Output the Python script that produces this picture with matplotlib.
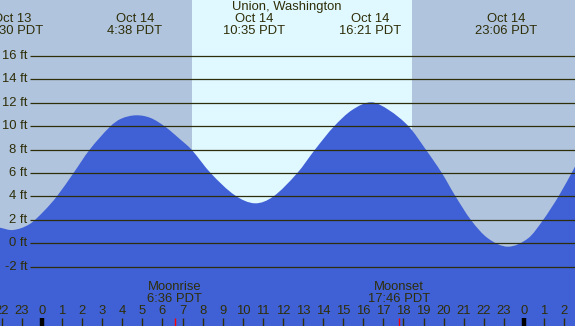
import matplotlib
matplotlib.use("Agg")
import matplotlib.pyplot as plt
from matplotlib.path import Path
from matplotlib.patches import PathPatch
from matplotlib.transforms import blended_transform_factory

# ---- data (hours relative to midnight Oct 14, heights in ft) ----
tide_hours = [-2.09, -1.45, -0.63, 0.10, 0.74, 1.56, 2.38, 3.39, 3.93, 4.67, 5.40,
              6.13, 6.86, 7.44, 8.41, 9.60, 10.60, 11.51, 12.70, 13.62, 14.53,
              15.44, 16.39, 17.27, 18.27, 19.09, 19.92, 20.55, 21.37, 22.20,
              23.20, 24.21, 24.94, 25.76, 26.54]
tide_heights = [1.33, 1.13, 1.62, 2.75, 4.00, 5.97, 8.00, 9.95, 10.62, 10.92, 10.70,
                9.95, 8.90, 8.00, 5.97, 4.10, 3.41, 3.98, 5.97, 8.05, 9.95,
                11.37, 12.03, 11.37, 9.95, 8.05, 5.97, 4.12, 1.96, 0.43,
                -0.29, 0.43, 1.96, 4.12, 6.54]

extreme_hours = [-1.5, 4.633, 10.583, 16.35, 23.1]
extreme_dates = ["Oct 13", "Oct 14", "Oct 14", "Oct 14", "Oct 14"]
extreme_times = ["22:30 PDT", "4:38 PDT", "10:35 PDT", "16:21 PDT", "23:06 PDT"]

sunrise, sunset = 7.47, 18.43
moon_events = ["Moonrise", "Moonset"]
moon_hours = [6.6, 17.767]
moon_times = ["6:36 PDT", "17:46 PDT"]

ft_levels = [-2, 0, 2, 4, 6, 8, 10, 12, 14, 16]
hour_ticks = list(range(-2, 27))

title = "Union, Washington"

# ---- styling ----
NIGHT = "#B0C4DE"
DAY = "#E0F8FF"
WATER = "#4060D6"
INK = "#2E2E08"
FONT = "Liberation Sans"
FS = 9.4

x0, x1 = -2.09, 26.54
y0, y1 = -7.06, 20.76

fig = plt.figure(figsize=(5.75, 3.26), dpi=100)
ax = fig.add_axes([0, 0, 1, 1])
ax.set_xlim(x0, x1)
ax.set_ylim(y0, y1)
ax.axis("off")

ax.axvspan(x0, x1, color=NIGHT, lw=0, zorder=0)
ax.axvspan(sunrise, sunset, color=DAY, lw=0, zorder=0.5)

# smooth (spline-style) water area through the read points: cubic Bezier
# segments with slopes taken from neighbouring points
xs, ys = tide_hours, tide_heights
n = len(xs)
slopes = []
for i in range(n):
    a = max(i - 1, 0)
    b = min(i + 1, n - 1)
    slopes.append((ys[b] - ys[a]) / (xs[b] - xs[a]))
verts = [(xs[0], y0), (xs[0], ys[0])]
codes = [Path.MOVETO, Path.LINETO]
for i in range(n - 1):
    dx = xs[i + 1] - xs[i]
    verts += [(xs[i] + dx / 3, ys[i] + slopes[i] * dx / 3),
              (xs[i + 1] - dx / 3, ys[i + 1] - slopes[i + 1] * dx / 3),
              (xs[i + 1], ys[i + 1])]
    codes += [Path.CURVE4] * 3
verts += [(xs[-1], y0), (xs[0], y0)]
codes += [Path.LINETO, Path.CLOSEPOLY]
ax.add_patch(PathPatch(Path(verts, codes), facecolor=WATER, edgecolor="none",
                       lw=0, zorder=1))

# grid lines and labels
gx_start = x0 + 30 / 575 * (x1 - x0)
for lv in ft_levels:
    ax.plot([gx_start, x1], [lv, lv], color=INK, lw=0.9, zorder=2,
            solid_capstyle="butt")
    ax.text(x0 + 27.5 / 575 * (x1 - x0), lv, f"{lv} ft", ha="right", va="center",
            fontsize=FS, family=FONT, color=INK, zorder=3)

# top labels
ax.text((x0 + x1) / 2 - 0.03, y1 - 7.3 / 326 * (y1 - y0), title, ha="center",
        va="center", fontsize=FS, family=FONT, color=INK, zorder=3)
for h, d, t in zip(extreme_hours, extreme_dates, extreme_times):
    ax.text(h, y1 - 19.5 / 326 * (y1 - y0), d, ha="center", va="center",
            fontsize=FS, family=FONT, color=INK, zorder=3)
    ax.text(h, y1 - 31.5 / 326 * (y1 - y0), t, ha="center", va="center",
            fontsize=FS, family=FONT, color=INK, zorder=3)

# bottom hour ticks
tr = blended_transform_factory(ax.transData, ax.transAxes)
for h in hour_ticks:
    lab = str(h % 24)
    ax.text(h, 1 - 311.5 / 326, lab, transform=tr, ha="center", va="center",
            fontsize=FS, family=FONT, color=INK, zorder=3)
    if h % 24 == 0:
        ax.plot([h, h], [0, 8 / 326], transform=tr, color="black", lw=3.2,
                solid_capstyle="butt", zorder=3)
    else:
        ax.plot([h, h], [0, 8 / 326], transform=tr, color=INK, lw=1.0,
                solid_capstyle="butt", zorder=3)

# moon events
for name, h, t in zip(moon_events, moon_hours, moon_times):
    ax.text(h, 1 - 287 / 326, name, transform=tr, ha="center", va="center",
            fontsize=FS, family=FONT, color=INK, zorder=3)
    ax.text(h, 1 - 299 / 326, t, transform=tr, ha="center", va="center",
            fontsize=FS, family=FONT, color=INK, zorder=3)
    ax.plot([h, h], [0, 8 / 326], transform=tr, color="red", lw=1.0,
            solid_capstyle="butt", zorder=4)

fig.savefig("out.png", dpi=100)
